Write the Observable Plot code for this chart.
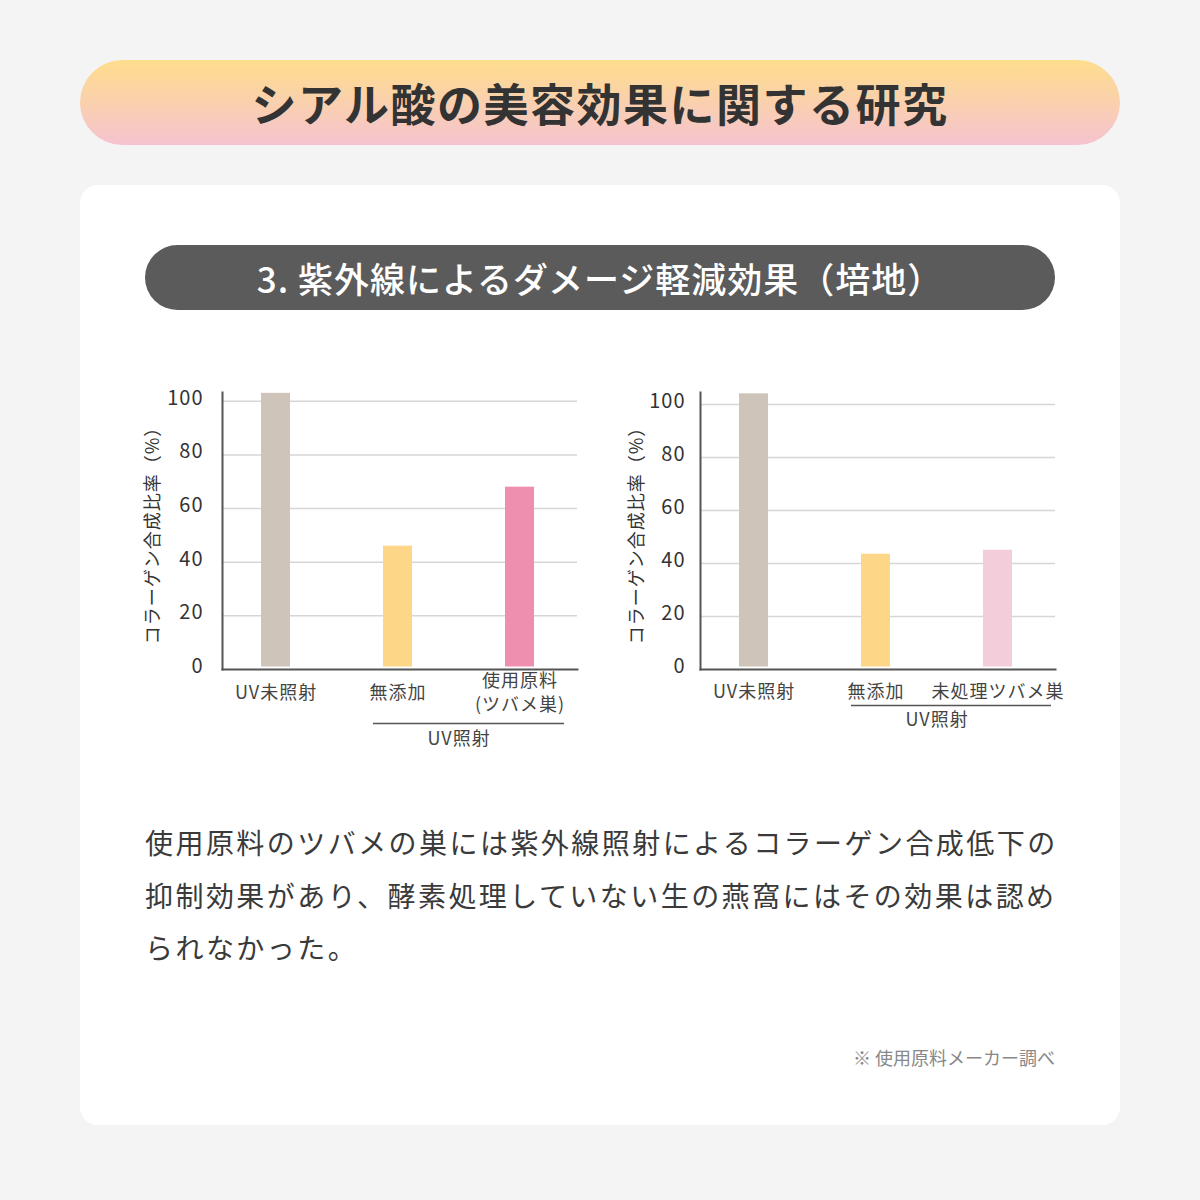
<!DOCTYPE html>
<html><head><meta charset="utf-8">
<script src="https://cdn.jsdelivr.net/npm/d3@7"></script>
<script src="https://cdn.jsdelivr.net/npm/@observablehq/plot@0.6"></script>
<style>
body{margin:0;background:#f4f4f4;font-family:"Noto Sans CJK JP","Noto Sans",sans-serif;}
#page{position:relative;width:1200px;height:1200px;overflow:hidden;}
#title{position:absolute;left:80px;top:60px;width:1040px;height:85px;border-radius:42.5px;
  background:linear-gradient(to bottom,#fedd8c,#f5c3d0);color:#333;font-size:45px;font-weight:700;
  line-height:85px;text-align:center;letter-spacing:1.5px;}
#card{position:absolute;left:80px;top:185px;width:1040px;height:940px;border-radius:18px;background:#fff;}
#subtitle{position:absolute;left:145px;top:245px;width:910px;height:65px;border-radius:32.5px;background:#5b5b5b;
  color:#fff;font-size:35px;font-weight:500;line-height:65px;text-align:center;letter-spacing:1px;}
.chart{position:absolute;top:370px;width:470px;height:400px;}
.chart text{letter-spacing:1px;}
#chart1{left:130px;}
#chart2{left:610px;}
#para{position:absolute;left:145px;top:816px;font-size:28px;line-height:52.5px;color:#3a3a3a;letter-spacing:2.45px;white-space:nowrap;}
#note{position:absolute;right:145px;top:1046px;font-size:18px;line-height:22px;color:#888;}
</style></head><body>
<div id="page">
 <div id="title">シアル酸の美容効果に関する研究</div>
 <div id="card"></div>
 <div id="subtitle">3. 紫外線によるダメージ軽減効果（培地）</div>
 <div id="chart1" class="chart"></div>
 <div id="chart2" class="chart"></div>
 <div id="para">
  <div>使用原料のツバメの巣には紫外線照射によるコラーゲン合成低下の</div>
  <div>抑制効果があり、酵素処理していない生の燕窩にはその効果は認め</div>
  <div>られなかった。</div>
 </div>
 <div id="note">※ 使用原料メーカー調べ</div>
</div>
<script>
const categories1 = ["UV未照射", "無添加", "使用原料\n(ツバメ巣)"];
const values1 = [103, 46, 68];
const colors1 = ["#cfc4ba", "#fdd688", "#ef8fb0"];

const categories2 = ["UV未照射", "無添加", "未処理ツバメ巣"];
const values2 = [104, 43.5, 45];
const colors2 = ["#cfc4ba", "#fdd688", "#f3cdd9"];

const yTicks = [0, 20, 40, 60, 80, 100];
const yLabel = "コラーゲン合成比率（%）";
const groupLabel = "UV照射";
const group1 = ["無添加", "使用原料\n(ツバメ巣)"];
const group2 = ["無添加", "未処理ツバメ巣"];

const FONT = '"Noto Sans CJK JP","Noto Sans",sans-serif';

function makeChart(o) {
  const data = o.cats.map((c, i) => ({cat: c, value: o.vals[i], color: o.cols[i]}));
  return Plot.plot({
    width: 470, height: 400,
    marginLeft: o.ml, marginRight: o.mr, marginTop: 22, marginBottom: 101,
    x: {type: "band", domain: o.cats, range: o.xRange, paddingInner: 0.76, paddingOuter: 0.38, axis: null},
    y: {domain: [0, o.yMax], axis: null},
    color: {type: "identity"},
    style: {fontFamily: FONT, background: "transparent", overflow: "visible"},
    marks: [
      Plot.ruleY(yTicks.filter(d => d > 0), {stroke: "#d6d6d6", strokeWidth: 1.5}),
      Plot.barY(data, {x: "cat", y: "value", fill: "color", insetBottom: 2.5}),
      Plot.frame({anchor: "left", stroke: "#555", strokeWidth: 2}),
      Plot.frame({anchor: "bottom", stroke: "#555", strokeWidth: 2}),
      Plot.axisY({ticks: yTicks, tickSize: 0, tickPadding: o.tickPad, fontSize: 20, fill: "#333", label: null, dy: -3}),
      Plot.text([yLabel], {frameAnchor: "left", textAnchor: "middle", rotate: -90, dx: o.labelDx, fontSize: 18, fill: "#333"}),
      Plot.text(data, {x: "cat", text: "cat", frameAnchor: "bottom", dy: o.catDy, lineAnchor: "middle", lineHeight: 1.3, fontSize: 18, fill: "#444"}),
      Plot.ruleY([0], {x1: () => o.group[0], x2: () => o.group[1], dy: o.grpLineDy, insetLeft: o.insL, insetRight: o.insR, stroke: "#555", strokeWidth: 1.5}),
      Plot.text([groupLabel], {x: () => o.group[0], frameAnchor: "bottom", lineAnchor: "middle", dx: 61, dy: o.grpTextDy, fontSize: 18, fill: "#444"})
    ]
  });
}

document.getElementById("chart1").append(makeChart({
  cats: categories1, vals: values1, cols: colors1, group: group1,
  yMax: 103.3, xRange: [85, 451], ml: 92, mr: 23, tickPad: 19, labelDx: -69,
  catDy: 22, grpLineDy: 54, grpTextDy: 70, insL: -10, insR: -30
}));
document.getElementById("chart2").append(makeChart({
  cats: categories2, vals: values2, cols: colors2, group: group2,
  yMax: 104.5, xRange: [83, 449], ml: 90, mr: 25, tickPad: 15, labelDx: -63,
  catDy: 21, grpLineDy: 36, grpTextDy: 51, insL: -10, insR: -39
}));
</script>
</body></html>
